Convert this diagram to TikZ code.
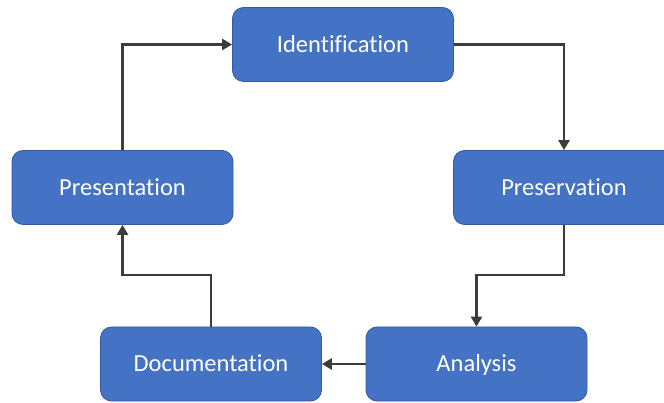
\documentclass[tikz,border=0pt]{standalone}
\usepackage{fontspec}
\setmainfont{Carlito}[Ligatures={NoCommon}]
\usetikzlibrary{arrows.meta}
\definecolor{boxfill}{RGB}{68,114,196}
\definecolor{boxline}{RGB}{52,90,160}
\definecolor{wire}{RGB}{60,60,60}
\begin{document}
\begin{tikzpicture}[x=1pt,y=-1pt,
  stage/.style={draw=boxline, line width=0.8pt, fill=boxfill, rounded corners=11pt,
    minimum width=221pt, minimum height=74pt, inner sep=0pt,
    text height=15.5pt, text depth=0pt,
    text=white, font=\fontsize{24.5}{28}\selectfont},
  flow/.style={draw=wire, line width=2.8pt,
    -{Triangle[length=10pt,width=11pt]}}]
  \useasboundingbox (0,0) rectangle (664,403);
  \begin{scope}
    \clip (0,0) rectangle (664,403);
    \node[stage] (ident) at (343,44.5)   {Identification};
    \node[stage] (pres)  at (564,187.5)  {Preservation};
    \node[stage] (anal)  at (476.5,364)  {Analysis};
    \node[stage] (doc)   at (211,364)    {Documentation};
    \node[stage] (prez)  at (122.5,187.5){Presentation};
  \end{scope}
  \coordinate (bend) at (0,275);
  \draw[flow] (ident.east) -| (pres.north);
  \draw[flow] (pres.south) -- (pres.south |- bend) -| (anal.north);
  \draw[flow] (anal.west) -- (doc.east);
  \draw[flow] (doc.north) -- (doc.north |- bend) -| (prez.south);
  \draw[flow] (prez.north) |- (ident.west);
\end{tikzpicture}
\end{document}
